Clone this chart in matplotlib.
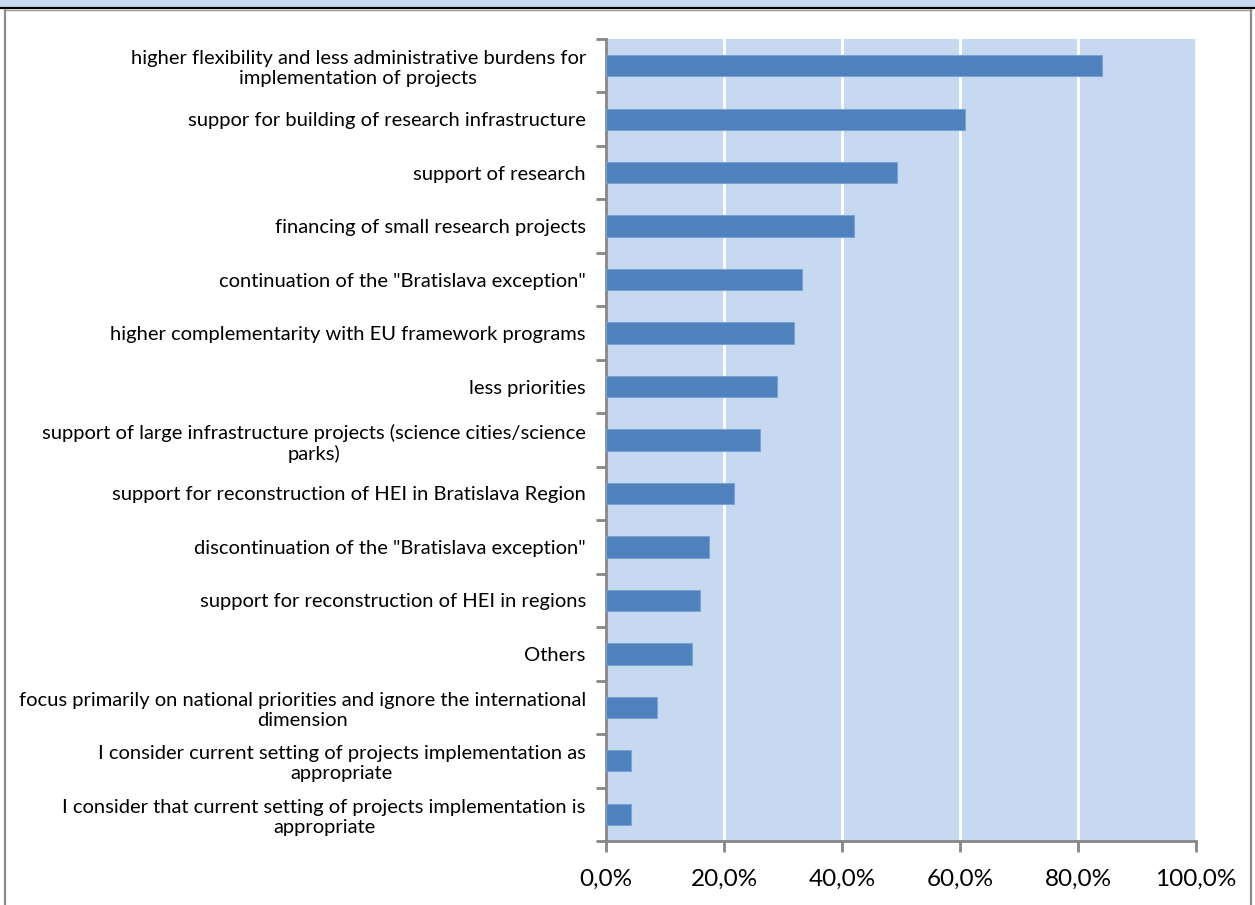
import numpy as np
import matplotlib
matplotlib.use('Agg')
import matplotlib.pyplot as plt
from matplotlib.lines import Line2D
from matplotlib.patches import Rectangle

plt.rcParams['font.family'] = ['Lato', 'DejaVu Sans']

# survey answers, share of respondents (n = 69)
labels = [
    'higher flexibility and less administrative burdens for\nimplementation of projects',
    'suppor for building of research infrastructure',
    'support of research',
    'financing of small research projects',
    'continuation of the "Bratislava exception"',
    'higher complementarity with EU framework programs',
    'less priorities',
    'support of large infrastructure projects (science cities/science\nparks)',
    'support for reconstruction of HEI in Bratislava Region',
    'discontinuation of the "Bratislava exception"',
    'support for reconstruction of HEI in regions',
    'Others',
    'focus primarily on national priorities and ignore the international\ndimension',
    'I consider current setting of projects implementation as\nappropriate',
    'I consider that current setting of projects implementation is\nappropriate',
]
shares = [84.1, 60.9, 49.3, 42.0, 33.3, 31.9, 29.0, 26.1, 21.7, 17.4, 15.9, 14.5, 8.7, 4.3, 4.3]
xticks = [0, 20, 40, 60, 80, 100]

W, H = 1255, 905
fig = plt.figure(figsize=(W / 100, H / 100), dpi=100)
fig.patch.set_facecolor('white')

# header strip and frame
fig.add_artist(Rectangle((0, 1 - 8 / H), 1, 8 / H, transform=fig.transFigure,
                         facecolor='#C6D9F1', edgecolor='none'))
fig.add_artist(Line2D([0, 1], [1 - 8.5 / H] * 2, transform=fig.transFigure,
                      color='black', lw=1.6))
fig.add_artist(Line2D([5 / W, 1251 / W], [1 - 10.2 / H] * 2, transform=fig.transFigure,
                      color='#9A9A9A', lw=1.0))
fig.add_artist(Line2D([5 / W] * 2, [0, 1 - 10 / H], transform=fig.transFigure,
                      color='#8C8C8C', lw=1.6))
fig.add_artist(Line2D([1251 / W] * 2, [0, 1 - 10 / H], transform=fig.transFigure,
                      color='#8C8C8C', lw=1.6))

ax = fig.add_axes([606 / W, 1 - 841 / H, (1196 - 606) / W, (841 - 39) / H])
ax.set_facecolor('#C6D9F1')

y = np.arange(len(labels))
ax.barh(y, shares, height=0.4, color='#4F81BD', edgecolor='#7BA3D3', linewidth=0.8, zorder=3)

ax.set_xlim(0, 100)
ax.set_ylim(len(labels) - 0.5, -0.5)
ax.set_xticks(xticks)
ax.set_xticklabels(['{:.1f}%'.format(v).replace('.', ',') for v in xticks], fontsize=17.5)
ax.grid(axis='x', color='white', lw=2, zorder=1)
ax.set_axisbelow(True)

ax.set_yticks(y)
ax.set_yticklabels(labels, fontsize=14.5, multialignment='center', linespacing=1.22)
ax.set_yticks(np.arange(len(labels) + 1) - 0.5, minor=True)
ax.tick_params(axis='y', which='major', length=0, pad=14.5)
ax.tick_params(axis='y', which='minor', length=7, width=2, color='#868686')
ax.tick_params(axis='x', length=8, width=2, color='#868686', pad=12)

for s in ['top', 'right']:
    ax.spines[s].set_visible(False)
for s in ['left', 'bottom']:
    ax.spines[s].set_color('#868686')
    ax.spines[s].set_linewidth(2)

fig.savefig('out.png', dpi=100)
